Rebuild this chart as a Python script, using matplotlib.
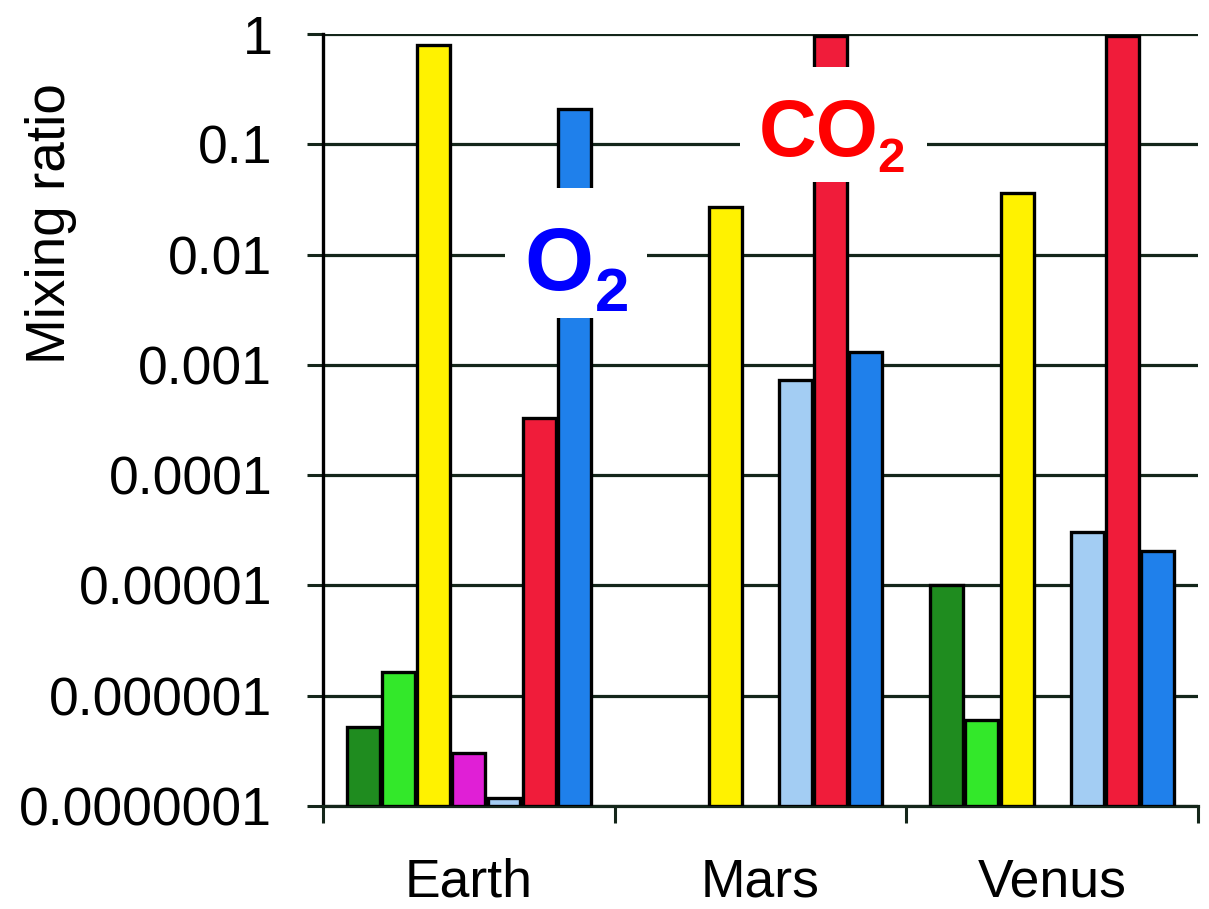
import numpy as np
import matplotlib
matplotlib.use("Agg")
import matplotlib.pyplot as plt
from matplotlib.patches import Rectangle

plt.rcParams['font.family'] = ['Liberation Sans', 'DejaVu Sans']

# Planets and gas mixing ratios (NaN = not shown)
planets = ["Earth", "Mars", "Venus"]
gases = ["H2", "CH4", "N2", "N2O", "CO", "CO2", "O2"]
h2 = [5.2e-7, np.nan, 1.0e-5]
ch4 = [1.65e-6, np.nan, 6.0e-7]
n2 = [0.79, 0.027, 0.036]
n2o = [3.0e-7, np.nan, np.nan]
co = [1.18e-7, 7.3e-4, 3.05e-5]
co2 = [3.3e-4, 0.953, 0.965]
o2 = [0.208, 1.3e-3, 2.05e-5]
series = [h2, ch4, n2, n2o, co, co2, o2]
colors = ["#1f8c1f", "#33e82a", "#fff200", "#e01fd6", "#a3cdf3", "#f01c3a", "#1f80eb"]

ytick_values = [1, 0.1, 0.01, 0.001, 0.0001, 0.00001, 0.000001, 0.0000001]
ytick_labels = ["1", "0.1", "0.01", "0.001", "0.0001", "0.00001", "0.000001", "0.0000001"]
y_floor = 1e-7

W, H = 1209, 909
AX_L, AX_R, AX_T, AX_B = 323, 1198, 34, 806
fig = plt.figure(figsize=(W / 100, H / 100), dpi=100)
ax = fig.add_axes([AX_L / W, 1 - AX_B / H, (AX_R - AX_L) / W, (AX_B - AX_T) / H])


def ax_frac(px, py):
    """Pixel position in the figure -> axes fraction."""
    return (px - AX_L) / (AX_R - AX_L), (AX_B - py) / (AX_B - AX_T)


grid_color = "#14261a"
pitch = 0.1205
width = 0.113
x = np.arange(len(planets))
for i, (vals, col) in enumerate(zip(series, colors)):
    heights = np.asarray(vals) - y_floor
    ax.bar(x + (i - 3) * pitch, heights, width=width, bottom=y_floor, color=col,
           edgecolor="black", linewidth=2.4, zorder=3)

ax.set_yscale("log")
ax.set_ylim(y_floor, 1)
ax.set_xlim(-0.5, 2.5)

ax.set_yticks(ytick_values)
ax.set_yticklabels(ytick_labels)
ax.yaxis.set_minor_locator(matplotlib.ticker.NullLocator())
ax.tick_params(axis="y", which="major", direction="out", length=11.5, width=2.2,
               color=grid_color, labelsize=38.5, pad=25)

ax.set_xticks([-0.5, 0.5, 1.5, 2.5])
ax.set_xticklabels([])
ax.set_xticks(x, minor=True)
ax.set_xticklabels(planets, minor=True)
ax.tick_params(axis="x", which="major", direction="out", length=12, width=2.2,
               color=grid_color)
ax.tick_params(axis="x", which="minor", length=0, labelsize=38.5, pad=37)

ax.grid(axis="y", which="major", color=grid_color, linewidth=2.3, zorder=1)
ax.set_axisbelow(True)
for side in ("top", "right"):
    ax.spines[side].set_visible(False)
ax.spines["left"].set_color("black")
ax.spines["left"].set_linewidth(2.4)
ax.spines["bottom"].set_color(grid_color)
ax.spines["bottom"].set_linewidth(2.3)

ax.set_ylabel("Mixing ratio", fontsize=39.5)
ax.yaxis.label.set_va("center")
ax.yaxis.set_label_coords(-0.311, 0.755)


def formula(main, sub, color, box, main_pos, main_size, sub_pos, sub_size):
    """Draw a bold chemical formula with a lowered subscript on a white panel."""
    (bx0, by0), (bx1, by1) = ax_frac(*box[0]), ax_frac(*box[1])
    ax.add_patch(Rectangle((bx0, by1), bx1 - bx0, by0 - by1, transform=ax.transAxes,
                           facecolor="white", edgecolor="none", zorder=4))
    ax.text(*ax_frac(*main_pos), main, transform=ax.transAxes, color=color,
            fontsize=main_size, fontweight="bold", ha="left", va="baseline", zorder=5)
    ax.text(*ax_frac(*sub_pos), sub, transform=ax.transAxes, color=color,
            fontsize=sub_size, fontweight="bold", ha="left", va="baseline", zorder=5)


formula("O", "2", "#0000ff", ((505, 188), (647, 318)), (524, 290), 64, (595, 311), 44.5)
formula("CO", "2", "#ff0000", ((740, 67), (927, 182)), (759, 156), 57.5, (877, 171.5), 35.5)

fig.savefig("out.png", dpi=100, facecolor="white")
